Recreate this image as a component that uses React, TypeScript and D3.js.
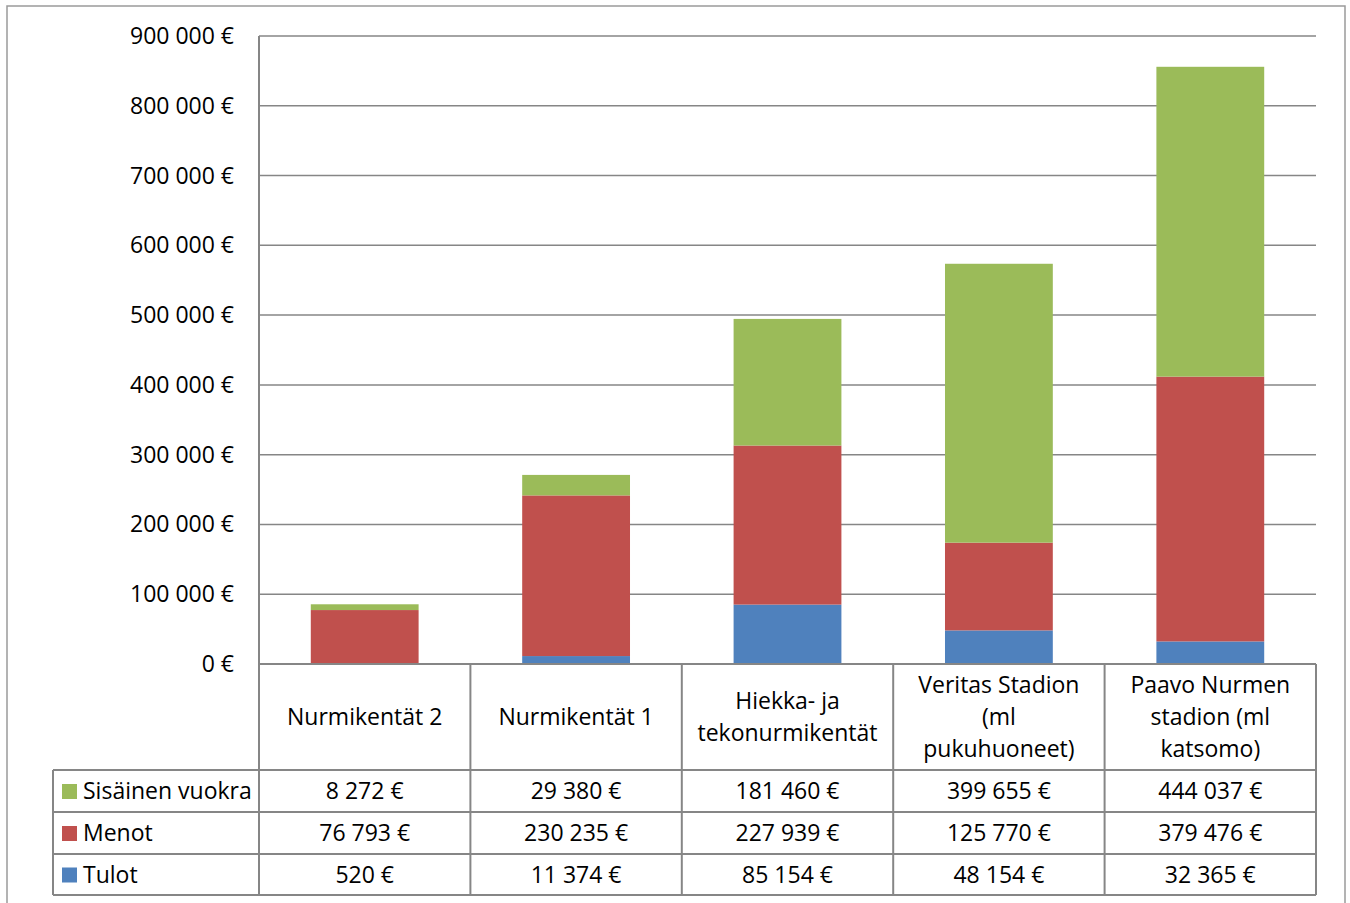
import React from "react";
import * as d3 from "d3";

const categories = [
  ["Nurmikentät 2"],
  ["Nurmikentät 1"],
  ["Hiekka- ja", "tekonurmikentät"],
  ["Veritas Stadion", "(ml", "pukuhuoneet)"],
  ["Paavo Nurmen", "stadion (ml", "katsomo)"],
];
const tulot = [520, 11374, 85154, 48154, 32365];
const menot = [76793, 230235, 227939, 125770, 379476];
const sisainen = [8272, 29380, 181460, 399655, 444037];
const seriesNames = ["Sisäinen vuokra", "Menot", "Tulot"];
const seriesColors = ["#9BBB59", "#C0504D", "#4F81BD"];
const yTicks = [0, 100000, 200000, 300000, 400000, 500000, 600000, 700000, 800000, 900000];

const fmt = (v: number) => d3.format(",")(v).replace(/,/g, " ") + " €";

export default function App() {
  const W = 1350, H = 903;
  const left = 259, right = 1316, top = 36, base = 664;
  const rowH = [770, 812, 854, 895];
  const legendLeft = 53;
  const font = "'Open Sans', Lato, sans-serif";
  const fs = 23;
  const grid = "#868686";

  const x = d3.scaleBand<number>().domain(d3.range(categories.length)).range([left, right]).paddingInner(0.49).paddingOuter(0.245);
  const colX = d3.scaleBand<number>().domain(d3.range(categories.length)).range([left, right]);
  const y = d3.scaleLinear().domain([0, 900000]).range([base, top]);

  const stackData = categories.map((_, i) => ({ i, tulot: tulot[i], menot: menot[i], sisainen: sisainen[i] }));
  const stack = d3.stack<any>().keys(["tulot", "menot", "sisainen"]);
  const layers = stack(stackData);
  const layerColors: Record<string, string> = { tulot: "#4F81BD", menot: "#C0504D", sisainen: "#9BBB59" };
  const rows = [sisainen, menot, tulot];

  return (
    <svg width={W} height={H} style={{ display: "block", position: "absolute", left: 0, top: 0 }} fontFamily={font}>
      <rect x={0} y={0} width={W} height={H} fill="#fff" />
      <rect x={7} y={6} width={1338} height={H + 10} fill="none" stroke="#9a9a9a" strokeWidth={1.5} />
      {yTicks.map((t) => (
        <g key={t}>
          <line x1={left} x2={right} y1={y(t)} y2={y(t)} stroke={grid} strokeWidth={1.5} />
          <text x={234} y={y(t)} dy="0.35em" textAnchor="end" fontSize={fs} fill="#000">{fmt(t)}</text>
        </g>
      ))}
      {layers.map((layer) => (
        <g key={layer.key} fill={layerColors[layer.key]}>
          {layer.map((d, i) => (
            <rect key={i} x={x(i)} width={x.bandwidth()} y={y(d[1])} height={y(d[0]) - y(d[1])} />
          ))}
        </g>
      ))}
      <g stroke={grid} strokeWidth={2} fill="none">
        <line x1={left} x2={left} y1={top} y2={rowH[3]} />
        <line x1={left} x2={right} y1={base} y2={base} />
        {d3.range(categories.length + 1).map((i) => {
          const xx = i < categories.length ? colX(i)! : right;
          return <line key={i} x1={xx} x2={xx} y1={base} y2={rowH[3]} />;
        })}
        {rowH.map((r) => (
          <line key={r} x1={legendLeft} x2={right} y1={r} y2={r} />
        ))}
        <line x1={legendLeft} x2={legendLeft} y1={rowH[0]} y2={rowH[3]} />
      </g>
      {categories.map((lines, i) => {
        const cx = colX(i)! + colX.bandwidth() / 2;
        const cy = (base + rowH[0]) / 2;
        const lh = 32;
        return (
          <text key={i} x={cx} textAnchor="middle" fontSize={fs} fill="#000">
            {lines.map((l, j) => (
              <tspan key={j} x={cx} y={cy + (j - (lines.length - 1) / 2) * lh} dy="0.35em">{l}</tspan>
            ))}
          </text>
        );
      })}
      {rows.map((vals, r) => {
        const cy = (rowH[r] + rowH[r + 1]) / 2;
        return (
          <g key={r}>
            <rect x={62} y={cy - 7} width={15} height={15} fill={seriesColors[r]} />
            <text x={83} y={cy} dy="0.35em" fontSize={fs} fill="#000">{seriesNames[r]}</text>
            {vals.map((v, i) => (
              <text key={i} x={colX(i)! + colX.bandwidth() / 2} y={cy} dy="0.35em" textAnchor="middle" fontSize={fs} fill="#000">{fmt(v)}</text>
            ))}
          </g>
        );
      })}
    </svg>
  );
}
